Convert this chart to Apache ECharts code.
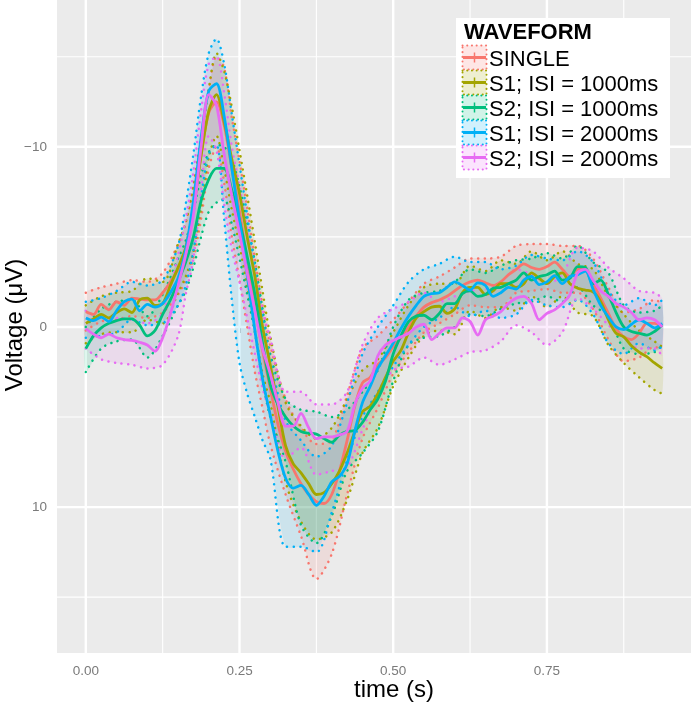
<!DOCTYPE html>
<html><head><meta charset="utf-8">
<script src="https://cdn.jsdelivr.net/npm/echarts@6/dist/echarts.min.js"></script>
<style>html,body{margin:0;padding:0;background:#fff}#c{width:692px;height:711px}</style>
</head><body><div id="c"></div>
<script>
// ---------- data ----------
const seriesNames = ['SINGLE', 'S1; ISI = 1000ms', 'S2; ISI = 1000ms', 'S1; ISI = 2000ms', 'S2; ISI = 2000ms'];
const colors = ['#F8766D', '#A3A500', '#00BF7D', '#00B0F6', '#E76BF3'];
const xTicks = [0, 0.25, 0.5, 0.75];
const yTicks = [-10, 0, 10];
const xMinorGrid = [0.125, 0.375, 0.625, 0.875];
const yMinorGrid = [-15, -5, 5, 15];

// time (s) for the mean waveforms
const timeFine = [0, 0.0125, 0.025, 0.0375, 0.05, 0.0625, 0.075, 0.0875, 0.1, 0.1125, 0.125, 0.1375, 0.15, 0.1625, 0.175, 0.1875, 0.2, 0.2125, 0.225, 0.2375, 0.25, 0.2625, 0.275, 0.2875, 0.3, 0.3125, 0.325, 0.3375, 0.35, 0.3625, 0.375, 0.3875, 0.4, 0.4125, 0.425, 0.4375, 0.45, 0.4625, 0.475, 0.4875, 0.5, 0.5125, 0.525, 0.5375, 0.55, 0.5625, 0.575, 0.5875, 0.6, 0.6125, 0.625, 0.6375, 0.65, 0.6625, 0.675, 0.6875, 0.7, 0.7125, 0.725, 0.7375, 0.75, 0.7625, 0.775, 0.7875, 0.8, 0.8125, 0.825, 0.8375, 0.85, 0.8625, 0.875, 0.8875, 0.9, 0.9125, 0.925, 0.9375];

const meanSingle = [-0.85, -0.7, -1.25, -0.95, -1.4, -1.2, -1.6, -1.55, -1.5, -1.5, -1.9, -2.5, -3.2, -4.3, -6.5, -9.6, -11.9, -12.5, -11.2, -8.8, -6.4, -3.7, -1.1, 1.3, 3.4, 5.4, 6.9, 7.9, 8.7, 9.3, 9.7, 9.8, 9.3, 8.0, 6.3, 4.4, 3.1, 2.8, 2.1, 1.7, 1.1, 0.6, 0.0, -0.6, -1.1, -1.35, -1.5, -1.7, -2.0, -2.3, -2.5, -2.6, -2.45, -2.3, -2.5, -2.9, -3.2, -3.5, -3.3, -3.2, -3.35, -3.6, -3.2, -2.8, -3.2, -3.2, -2.4, -1.6, -0.75, 0.1, 0.55, 0.7, 0.35, -0.2, -0.2, 0.0];
const meanS1isi1000 = [-0.2, -0.45, -0.7, -0.5, -0.8, -1.0, -0.8, -1.5, -1.6, -1.2, -1.3, -2.3, -3.3, -4.4, -6.6, -9.5, -12.0, -12.9, -11.4, -9.3, -7.4, -5.0, -2.8, 0.0, 2.1, 4.4, 6.6, 7.6, 8.1, 8.7, 9.3, 9.2, 8.7, 8.0, 7.0, 5.8, 4.7, 4.4, 3.7, 2.8, 1.9, 1.3, 0.3, -0.5, -0.85, -1.1, -1.15, -0.75, -1.0, -1.9, -2.2, -2.2, -1.8, -2.0, -2.4, -2.4, -2.2, -2.4, -3.0, -2.7, -2.4, -2.8, -3.0, -2.4, -2.15, -2.05, -1.95, -1.4, -0.4, 0.35, 0.55, 1.05, 1.4, 1.65, 2.0, 2.3];
const meanS2isi1000 = [1.2, 0.5, 0.05, -0.2, -0.35, -0.45, -0.45, -0.1, 0.5, 0.2, -0.7, -1.5, -2.5, -3.6, -5.0, -7.0, -8.2, -8.8, -8.8, -7.6, -5.9, -3.9, -1.8, 0.9, 3.2, 4.3, 5.0, 5.5, 5.8, 5.9, 5.95, 6.2, 6.4, 6.0, 5.8, 5.75, 5.3, 4.6, 4.0, 3.0, 1.5, 0.5, -0.3, -0.6, -0.65, -0.4, -0.75, -1.3, -1.3, -1.85, -2.0, -1.7, -1.8, -2.15, -2.2, -2.4, -2.6, -3.0, -2.6, -2.8, -2.9, -3.1, -2.6, -2.7, -3.35, -3.3, -2.4, -2.6, -1.8, -0.8, 0.0, 0.25, 0.35, 0.45, 0.25, -0.1];
const meanS1isi2000 = [-0.5, -0.35, -0.55, -0.3, -0.9, -1.4, -1.55, -0.9, -1.25, -1.1, -1.3, -1.9, -2.7, -4.3, -7.0, -10.5, -13.1, -13.5, -11.7, -8.8, -5.9, -2.9, 0.2, 2.9, 4.9, 6.9, 8.4, 8.95, 8.8, 9.3, 9.9, 9.4, 8.6, 8.3, 7.6, 5.8, 4.2, 3.3, 2.3, 1.6, 0.9, 0.1, -0.6, -1.2, -1.7, -1.85, -1.9, -2.2, -2.5, -2.3, -2.05, -2.45, -2.3, -1.7, -1.9, -2.2, -2.1, -2.6, -2.8, -2.35, -2.5, -2.85, -2.4, -2.8, -2.9, -3.1, -2.1, -1.2, -0.55, 0.0, 0.15, -0.15, -0.4, -0.2, 0.05, -0.2];
const meanS2isi2000 = [0.1, 0.4, 0.6, 0.4, 0.6, 0.7, 0.75, 0.85, 1.0, 1.35, 0.6, -0.7, -2.3, -4.0, -6.2, -10.0, -12.9, -12.3, -9.6, -7.3, -5.2, -3.0, -0.9, 1.2, 2.6, 4.2, 5.5, 5.5, 4.8, 5.6, 6.2, 6.1, 6.1, 6.0, 5.8, 4.3, 3.4, 3.0, 1.6, 1.0, 0.75, 0.55, 0.35, 0.0, -0.15, 0.7, 0.35, 0.05, 0.05, -0.5, -0.3, 0.45, -0.4, -0.6, -0.85, -1.3, -1.6, -1.7, -1.3, -0.4, -0.75, -0.95, -1.3, -1.8, -3.0, -3.2, -2.6, -2.0, -1.7, -1.3, -1.1, -0.8, -0.4, -0.5, -0.4, 0.0];

// time (s) for the dotted ribbon bounds
const boundTimes = [0, 0.025, 0.05, 0.075, 0.1, 0.125, 0.15, 0.1625, 0.175, 0.1875, 0.2, 0.2125, 0.225, 0.2375, 0.25, 0.2625, 0.275, 0.2875, 0.3, 0.325, 0.35, 0.375, 0.4, 0.425, 0.45, 0.475, 0.5, 0.525, 0.55, 0.575, 0.6, 0.625, 0.65, 0.675, 0.7, 0.725, 0.75, 0.775, 0.8, 0.825, 0.85, 0.875, 0.9, 0.925, 0.9375];

const loSingle = [-1.9, -2.2, -2.4, -2.6, -2.5, -3.0, -4.6, -5.8, -7.8, -10.6, -13.2, -15.0, -14.4, -11.6, -9.2, -6.6, -3.8, -1.2, 1.0, 4.0, 5.6, 6.5, 6.3, 3.8, 1.2, 0.5, -0.4, -1.4, -2.4, -2.8, -3.3, -3.8, -3.8, -3.9, -4.5, -4.6, -4.6, -4.5, -4.5, -3.8, -2.2, -0.8, -1.0, -1.5, -1.3];
const hiSingle = [0.2, -0.3, -0.4, -0.6, -0.5, -0.8, -1.8, -2.6, -3.8, -6.0, -8.8, -10.0, -8.0, -5.0, -2.6, 0.0, 2.5, 4.5, 6.5, 9.3, 11.6, 14.0, 12.6, 9.3, 6.2, 4.5, 2.6, 1.4, 0.3, -0.2, -0.7, -1.2, -1.1, -1.1, -1.9, -2.0, -2.1, -1.9, -1.9, -1.0, 0.7, 1.9, 1.7, 1.1, 1.3];
const loS1isi1000 = [-1.2, -1.7, -1.9, -2.0, -2.7, -2.5, -4.6, -5.8, -7.8, -10.5, -13.2, -15.2, -14.2, -12.2, -9.8, -7.3, -4.7, -2.0, 0.5, 4.2, 5.5, 6.2, 5.6, 4.0, 2.4, 1.8, 0.3, -1.2, -2.2, -2.4, -2.4, -3.4, -3.1, -3.7, -3.5, -4.2, -3.7, -4.2, -3.5, -3.2, -1.7, -0.7, 0.2, 0.8, 1.1];
const hiS1isi1000 = [0.9, 0.4, 0.3, 0.3, -0.4, -0.2, -1.9, -2.8, -4.2, -6.6, -9.4, -10.6, -8.8, -6.5, -4.5, -2.2, 0.2, 2.6, 4.2, 8.6, 10.8, 11.8, 11.4, 9.6, 7.0, 5.6, 3.3, 1.7, 0.5, 0.2, 0.4, -0.9, -0.5, -1.1, -0.9, -1.7, -1.1, -1.7, -0.8, -0.6, 1.0, 2.0, 2.8, 3.5, 3.7];
const loS2isi1000 = [0.0, -1.0, -1.4, -1.5, -0.6, -1.8, -3.8, -4.8, -6.4, -8.4, -9.7, -10.1, -10.0, -9.3, -7.8, -5.8, -3.6, -1.0, 1.5, 4.0, 4.6, 4.7, 5.0, 4.6, 3.6, 2.4, 0.0, -1.5, -1.9, -2.0, -2.5, -3.2, -3.0, -3.4, -3.7, -3.8, -4.1, -3.8, -4.5, -3.6, -3.0, -1.2, -0.8, -0.9, -1.2];
const hiS2isi1000 = [2.5, 1.2, 0.8, 0.7, 1.7, 0.5, -1.2, -2.0, -3.3, -5.0, -6.4, -6.9, -7.1, -5.7, -3.8, -1.8, 0.3, 3.0, 5.0, 7.5, 11.0, 12.0, 10.5, 8.0, 7.0, 5.8, 3.0, 1.0, 0.6, 0.5, 0.0, -0.7, -0.6, -1.0, -1.3, -1.4, -1.7, -1.4, -2.2, -1.2, -0.6, 1.2, 1.5, 1.4, 1.0];
const loS1isi2000 = [-1.4, -1.6, -2.0, -2.5, -2.3, -2.6, -4.5, -6.8, -9.6, -12.8, -15.2, -16.0, -14.6, -11.8, -9.0, -6.2, -3.3, -0.6, 1.8, 5.2, 6.3, 7.2, 6.6, 4.2, 1.5, 0.0, -1.2, -2.5, -3.2, -3.5, -3.9, -3.6, -3.6, -3.2, -3.4, -4.0, -3.8, -3.7, -4.2, -3.6, -2.0, -1.2, -1.6, -1.2, -1.5];
const hiS1isi2000 = [0.6, 0.5, 0.3, -0.4, -0.1, -0.2, -1.2, -2.3, -4.2, -7.2, -9.6, -10.1, -6.0, -1.5, 2.0, 3.7, 5.0, 6.3, 7.3, 12.2, 12.2, 12.5, 10.3, 7.4, 5.0, 3.6, 2.2, 1.0, 0.0, -0.5, -1.1, -0.6, -0.9, -0.5, -0.7, -1.5, -1.2, -1.1, -1.5, -0.7, 0.9, 1.5, 0.9, 1.3, 1.1];
const loS2isi2000 = [-0.9, -0.5, -0.5, -0.4, -0.2, -0.8, -4.0, -6.0, -8.6, -12.0, -14.6, -15.0, -13.0, -10.0, -7.8, -5.4, -3.0, -0.9, 0.6, 3.6, 3.6, 4.3, 4.3, 3.6, 1.0, -0.5, -1.0, -1.4, -1.9, -1.4, -1.7, -2.0, -2.1, -2.5, -3.2, -2.9, -2.4, -2.9, -4.4, -4.2, -3.3, -2.7, -2.0, -1.9, -1.6];
const hiS2isi2000 = [1.2, 1.8, 2.0, 2.1, 2.3, 2.1, 0.5, -1.8, -3.8, -7.6, -10.6, -9.8, -6.8, -4.3, -2.5, -0.5, 1.5, 3.4, 4.8, 7.3, 6.7, 8.2, 8.0, 7.8, 5.7, 3.7, 2.4, 2.2, 1.7, 2.1, 1.8, 1.4, 1.3, 0.8, -0.1, 0.3, 1.0, 0.3, -1.6, -1.0, -0.1, 0.6, 1.2, 1.2, 1.6];

// ---------- chart ----------
const FONT = '"Liberation Sans", Arial, Helvetica, sans-serif';
const groups = [
  { mean: meanSingle, lo: loSingle, hi: hiSingle },
  { mean: meanS1isi1000, lo: loS1isi1000, hi: hiS1isi1000 },
  { mean: meanS2isi1000, lo: loS2isi1000, hi: hiS2isi1000 },
  { mean: meanS1isi2000, lo: loS1isi2000, hi: hiS1isi2000 },
  { mean: meanS2isi2000, lo: loS2isi2000, hi: hiS2isi2000 }
];
function rgba(hex, a) {
  const n = parseInt(hex.slice(1), 16);
  return 'rgba(' + (n >> 16 & 255) + ',' + (n >> 8 & 255) + ',' + (n & 255) + ',' + a + ')';
}

const gridData = [];
xTicks.forEach(v => gridData.push([0, v, 1]));
xMinorGrid.forEach(v => gridData.push([0, v, 0]));
yTicks.forEach(v => gridData.push([1, v, 1]));
yMinorGrid.forEach(v => gridData.push([1, v, 0]));

const series = [];
series.push({
  type: 'custom', silent: true, z: 1, data: gridData,
  renderItem: function (params, api) {
    const kind = api.value(0), val = api.value(1), major = api.value(2);
    const cs = params.coordSys;
    let shape;
    if (kind === 0) {
      const p = api.coord([val, 0]);
      shape = { x1: p[0], y1: cs.y, x2: p[0], y2: cs.y + cs.height };
    } else {
      const p = api.coord([0, val]);
      shape = { x1: cs.x, y1: p[1], x2: cs.x + cs.width, y2: p[1] };
    }
    return { type: 'line', shape: shape, silent: true,
      style: { stroke: '#ffffff', lineWidth: major ? 2.4 : 1.1 } };
  }
});

// ribbons: filled polygons between lo and hi, mapped with the axes' scales
series.push({
  type: 'custom', silent: true, z: 2, data: groups.map((g, k) => [k]),
  renderItem: function (params, api) {
    const k = params.dataIndex;
    const g = groups[k];
    const pts = [];
    for (let i = 0; i < boundTimes.length; i++) pts.push(api.coord([boundTimes[i], g.lo[i]]));
    for (let i = boundTimes.length - 1; i >= 0; i--) pts.push(api.coord([boundTimes[i], g.hi[i]]));
    return { type: 'polygon', shape: { points: pts, smooth: 0.25 }, silent: true,
      style: { fill: rgba(colors[k], 0.13), stroke: null } };
  }
});

const dotted = [0.1, 6.5];
groups.forEach((g, k) => {
  [g.lo, g.hi].forEach(arr => {
    series.push({
      type: 'line', smooth: 0.3, symbol: 'none', showSymbol: false, silent: true, z: 3,
      data: boundTimes.map((t, i) => [t, arr[i]]),
      lineStyle: { color: colors[k], width: 2.5, type: dotted, cap: 'round' }
    });
  });
});
groups.forEach((g, k) => {
  series.push({
    type: 'line', name: seriesNames[k], smooth: 0.3, symbol: 'none', showSymbol: false,
    silent: true, z: 4,
    data: timeFine.map((t, i) => [t, g.mean[i]]),
    lineStyle: { color: colors[k], width: 2.8 }
  });
});

// legend drawn as graphics
const legendChildren = [
  { type: 'rect', z: 100, shape: { x: 456, y: 18, width: 214, height: 160 }, style: { fill: '#ffffff' } },
  { type: 'text', z: 101, style: { text: 'WAVEFORM', x: 464, y: 33, font: 'bold 22px ' + FONT, fill: '#000',
      align: 'left', verticalAlign: 'middle', textAlign: 'left', textVerticalAlign: 'middle' } }
];
seriesNames.forEach((n, k) => {
  const cy = 57.5 + 25 * k;
  legendChildren.push({ type: 'rect', z: 101, shape: { x: 462.5, y: cy - 12, width: 24, height: 24 },
    style: { fill: rgba(colors[k], 0.18), stroke: colors[k], lineWidth: 2, lineDash: [0.1, 4.6], lineCap: 'round' } });
  legendChildren.push({ type: 'line', z: 102, shape: { x1: 463, y1: cy, x2: 486, y2: cy },
    style: { stroke: colors[k], lineWidth: 3 } });
  legendChildren.push({ type: 'line', z: 102, shape: { x1: 474.5, y1: cy - 5, x2: 474.5, y2: cy + 5 },
    style: { stroke: colors[k], lineWidth: 1.5 } });
  legendChildren.push({ type: 'text', z: 102, style: { text: n, x: 489, y: cy + 2, font: '22px ' + FONT, fill: '#000',
    align: 'left', verticalAlign: 'middle', textAlign: 'left', textVerticalAlign: 'middle' } });
});

const chart = echarts.init(document.getElementById('c'), null, { renderer: 'canvas' });
chart.setOption({
  animation: false,
  backgroundColor: '#ffffff',
  grid: { left: 57, right: 1, top: 0, bottom: 58, show: true, backgroundColor: '#EBEBEB', borderWidth: 0 },
  xAxis: {
    type: 'value', min: -0.046875, max: 0.984375,
    axisLine: { show: false },
    axisTick: { show: true, customValues: xTicks, length: 6, lineStyle: { color: '#555', width: 2 } },
    axisLabel: { customValues: xTicks, formatter: v => Number(v).toFixed(2), color: '#7a7a7a',
      fontSize: 13.5, fontFamily: FONT, margin: 11 },
    splitLine: { show: false }
  },
  yAxis: {
    type: 'value', inverse: true, min: -18.15, max: 18.1,
    axisLine: { show: false },
    axisTick: { show: true, customValues: yTicks, length: 6, lineStyle: { color: '#555', width: 2 } },
    axisLabel: { customValues: yTicks, formatter: v => (v < 0 ? '\u2212' + Math.abs(v) : String(v)),
      color: '#7a7a7a', fontSize: 13.5, fontFamily: FONT, margin: 10 },
    splitLine: { show: false }
  },
  series: series,
  graphic: [
    { type: 'group', z: 100, children: legendChildren },
    { type: 'text', z: 100, x: 394, y: 690, style: { text: 'time (s)', font: '24px ' + FONT, fill: '#000',
      align: 'center', verticalAlign: 'middle', textAlign: 'center', textVerticalAlign: 'middle' } },
    { type: 'text', z: 100, x: 15, y: 325, rotation: Math.PI / 2, style: { text: 'Voltage (\u03BCV)', font: '24px ' + FONT, fill: '#000',
      align: 'center', verticalAlign: 'middle', textAlign: 'center', textVerticalAlign: 'middle' } }
  ]
});
</script></body></html>
